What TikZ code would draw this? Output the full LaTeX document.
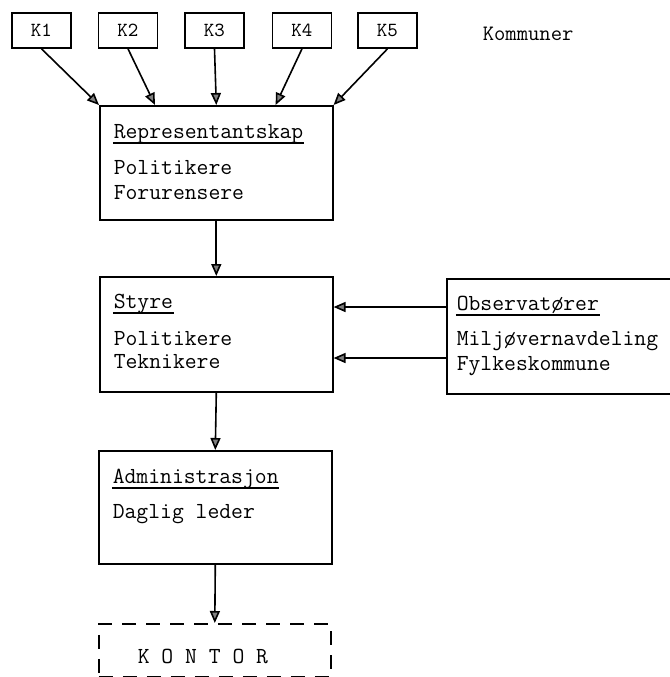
\documentclass[tikz,border=0pt]{standalone}
\usepackage{fontspec}
\usetikzlibrary{arrows.meta}

\begin{document}
\begin{tikzpicture}[x=0.5pt, y=-0.5pt, line width=0.8pt,
    box/.style={draw, rectangle, inner sep=0pt, anchor=north west, minimum width=116.5pt, minimum height=57pt},
    kbox/.style={draw, rectangle, inner sep=0pt, minimum width=29.5pt, minimum height=17.5pt, font=\fontsize{10}{12}\ttfamily},
    txt/.style={anchor=base west, inner sep=0pt, font=\fontsize{11.5}{14}\ttfamily},
    arr/.style={-{Triangle[length=6pt, width=5pt, fill=gray]}},
    uline/.style={line width=0.6pt}]
  \useasboundingbox (0,0) rectangle (670,677);

  \node (k1) [kbox] at (41.5,30.5) {K1};
  \node (k2) [kbox] at (128,30.5) {K2};
  \node (k3) [kbox] at (214.5,30.5) {K3};
  \node (k4) [kbox] at (302,30.5) {K4};
  \node (k5) [kbox] at (387.5,30.5) {K5};
  \node (kommuner) [txt, font=\fontsize{11}{13}\ttfamily] at (482,40) {Kommuner};

  \node (rep) [box] at (99,105) {};
  \node (repH) [txt] at ([shift={(14,33)}]rep.north west) {Representantskap};
  \node (rep1) [txt] at ([shift={(14,69)}]rep.north west) {Politikere};
  \node (rep2) [txt] at ([shift={(14,94)}]rep.north west) {Forurensere};

  \node (styre) [box, minimum height=57.5pt] at (99,276) {};
  \node (styreH) [txt] at ([shift={(14,32)}]styre.north west) {Styre};
  \node (styre1) [txt] at ([shift={(14,69)}]styre.north west) {Politikere};
  \node (styre2) [txt] at ([shift={(14,92)}]styre.north west) {Teknikere};

  \node (obs) [box, minimum width=127pt, minimum height=57.5pt] at (446,278) {};
  \node (obsH) [txt] at ([shift={(10,32)}]obs.north west) {Observatører};
  \node (obs1) [txt] at ([shift={(10,67)}]obs.north west) {Miljøvernavdeling};
  \node (obs2) [txt] at ([shift={(10,92)}]obs.north west) {Fylkeskommune};

  \node (admin) [box, minimum height=56.5pt] at (98,450) {};
  \node (adminH) [txt] at ([shift={(14,33)}]admin.north west) {Administrasjon};
  \node (admin1) [txt] at ([shift={(14,68)}]admin.north west) {Daglig leder};

  \node (kontor) [box, dash pattern=on 7pt off 5pt, minimum width=116pt, minimum height=26.5pt] at (98,623) {};
  \node (kontorT) [txt] at ([shift={(39,40)}]kontor.north west) {K O N T O R};

  \foreach \h in {repH, styreH, obsH, adminH}
    \draw[uline] ([yshift=-2.5pt]\h.base west) -- ([yshift=-2.5pt]\h.base east);

  \draw[arr] (k1.south) -- (rep.north west);
  \draw[arr] (k2.south) -- ([xshift=28pt]rep.north west);
  \draw[arr] (k3.south) -- (rep.north);
  \draw[arr] (k4.south) -- ([xshift=-29pt]rep.north east);
  \draw[arr] (k5.south) -- (rep.north east);

  \draw[arr] (rep.south) -- (styre.north);
  \draw[arr] (styre.south) -- (admin.north);
  \draw[arr] (admin.south) -- (kontor.north);

  \draw[arr] ([yshift=-14.5pt]obs.north west) coordinate (o1) -- (styre.east |- o1);
  \draw[arr] ([yshift=-40pt]obs.north west) coordinate (o2) -- (styre.east |- o2);
\end{tikzpicture}
\end{document}
